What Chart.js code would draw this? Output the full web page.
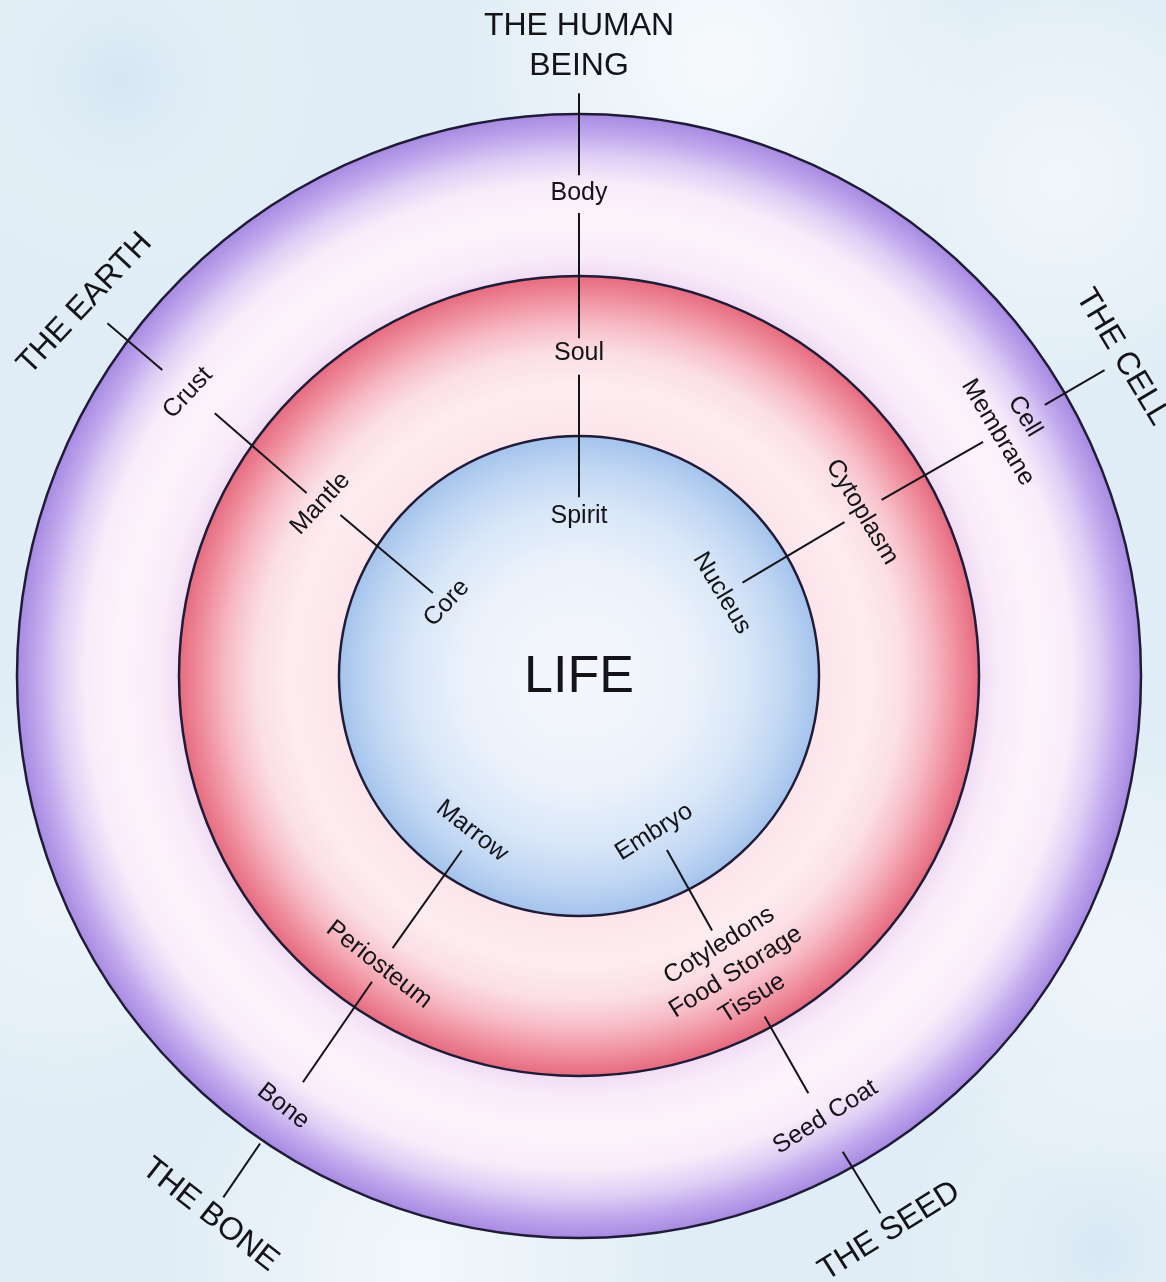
<!DOCTYPE html>
<html><head><meta charset="utf-8">
<script src="https://cdn.jsdelivr.net/npm/chart.js@4/dist/chart.umd.min.js"></script>
<style>html,body{margin:0;padding:0;background:#e2eef7;} canvas{display:block}</style>
</head><body>
<canvas id="c" width="1166" height="1282"></canvas>
<script>
// ---------------- data ----------------
const CENTER_LABEL = 'LIFE';
const RING_NAMES = ['Outer layer', 'Middle layer', 'Inner core'];
const RING_THICKNESS = [162, 160, 240];           // outer ring, middle ring, inner disc
const SUBJECTS = ['THE HUMAN\nBEING', 'THE EARTH', 'THE CELL', 'THE SEED', 'THE BONE'];
const OUTER_LAYER = ['Body', 'Crust', 'Cell\nMembrane', 'Seed Coat', 'Bone'];
const MIDDLE_LAYER = ['Soul', 'Mantle', 'Cytoplasm', 'Cotyledons\nFood Storage\nTissue', 'Periosteum'];
const INNER_LAYER = ['Spirit', 'Core', 'Nucleus', 'Embryo', 'Marrow'];

// ---------------- layout (polar: angle deg, radius as fraction of outer radius) ----------------
const LAYOUT = [
  {rot: 0,   title: [90, 1.121],    outer: [90, 0.859],    middle: [90, 0.575],    inner: [90, 0.285],
   segs: [[90, 1.037, 90, 0.891], [90, 0.824, 90, 0.601], [90, 0.536, 90, 0.318]]},
  {rot: -47, title: [143.0, 1.101], outer: [144.1, 0.859], middle: [146.3, 0.553], inner: [151.1, 0.269],
   segs: [[143.2, 1.048, 143.7, 0.920], [144.2, 0.799, 146.1, 0.584], [146.0, 0.512, 150.4, 0.299]]},
  {rot: 59,  title: [30.4, 1.121],  outer: [30.2, 0.890],  middle: [30.1, 0.582],  inner: [30.1, 0.294],
   segs: [[30.2, 1.082, 30.2, 0.959], [30.1, 0.831, 30.2, 0.623], [30.1, 0.546, 29.7, 0.335]]},
  {rot: -32, title: [-60.8, 1.132], outer: [-60.8, 0.899], middle: [-62.1, 0.596], inner: [-64.3, 0.308],
   segs: [[-61.0, 0.968, -60.7, 1.096], [-61.4, 0.690, -61.2, 0.847], [-63.2, 0.347, -62.4, 0.511]]},
  {rot: 38,  title: [235.6, 1.162], outer: [235.5, 0.929], middle: [235.3, 0.625], inner: [235.4, 0.335],
   segs: [[235.7, 1.007, 235.7, 1.123], [235.9, 0.657, 235.8, 0.874], [236.1, 0.374, 235.6, 0.587]]}
];

const FONT = '"Liberation Sans", Arial, Helvetica, sans-serif';
const INK = '#141418';
const EDGE = '#201c38';
const RING_STOPS = [
  [[0, '#f0dcf4'], [0.12, '#f9ebf9'], [0.35, '#fdf4fb'], [0.58, '#f8ecfa'], [0.74, '#e0cef5'], [0.87, '#c1a9ed'], [1, '#a78ae2']],
  [[0, '#fbe5ea'], [0.3, '#fdedf0'], [0.52, '#fbdfe5'], [0.7, '#f7bcc6'], [0.85, '#f093a2'], [1, '#e66b7f']],
  [[0, '#f5f6fc'], [0.45, '#edf3fb'], [0.7, '#d9e7f8'], [0.88, '#bed5f2'], [1, '#a4c3ec']]
];

function ringFill(idx) {
  return (c) => {
    const chart = c.chart, ca = chart.chartArea;
    const ctrl = chart.getDatasetMeta(c.datasetIndex).controller;
    const stops = RING_STOPS[idx];
    if (!ca || !ctrl || !(ctrl.outerRadius > 0)) return stops[stops.length - 1][1];
    const cx = (ca.left + ca.right) / 2, cy = (ca.top + ca.bottom) / 2;
    const r0 = Math.max(ctrl.innerRadius || 0, 0), r1 = Math.max(ctrl.outerRadius, r0 + 1);
    const g = chart.ctx.createRadialGradient(cx, cy, r0, cx, cy, r1);
    stops.forEach(s => g.addColorStop(s[0], s[1]));
    return g;
  };
}

function geom(chart) {
  const meta = chart.getDatasetMeta(0);
  const ca = chart.chartArea;
  return {cx: (ca.left + ca.right) / 2, cy: (ca.top + ca.bottom) / 2, R: meta.controller.outerRadius};
}
function pt(g, a, r) {
  const t = a * Math.PI / 180;
  return [g.cx + r * g.R * Math.cos(t), g.cy - r * g.R * Math.sin(t)];
}
function drawText(ctx, text, x, y, rot, size) {
  const lines = text.split('\n'), lh = size * 1.25;
  ctx.save();
  ctx.translate(x, y);
  ctx.rotate(rot * Math.PI / 180);
  ctx.font = size + 'px ' + FONT;
  ctx.fillStyle = INK;
  ctx.textAlign = 'center';
  ctx.textBaseline = 'middle';
  lines.forEach((l, i) => ctx.fillText(l, 0, (i - (lines.length - 1) / 2) * lh));
  ctx.restore();
}

const backgroundPlugin = {
  id: 'paper',
  beforeDraw(chart) {
    const ctx = chart.ctx, w = chart.width, h = chart.height;
    ctx.save();
    ctx.fillStyle = '#e0edf6';
    ctx.fillRect(0, 0, w, h);
    const blotches = [[720, 60, 260, 'rgba(255,255,255,0.75)'], [1060, 180, 220, 'rgba(255,255,255,0.55)'],
      [120, 80, 200, 'rgba(205,225,240,0.6)'], [60, 900, 220, 'rgba(255,255,255,0.4)'],
      [1120, 960, 240, 'rgba(255,255,255,0.5)'], [420, 1260, 260, 'rgba(255,255,255,0.6)'],
      [1100, 1250, 200, 'rgba(210,228,242,0.6)']];
    blotches.forEach(b => {
      const g = ctx.createRadialGradient(b[0], b[1], 0, b[0], b[1], b[2]);
      g.addColorStop(0, b[3]); g.addColorStop(1, 'rgba(255,255,255,0)');
      ctx.fillStyle = g; ctx.fillRect(0, 0, w, h);
    });
    ctx.restore();
  }
};

const labelPlugin = {
  id: 'layerLabels',
  afterDatasetsDraw(chart) {
    const ctx = chart.ctx, g = geom(chart);
    ctx.save();
    // ring boundaries, from each ring's computed outer radius
    ctx.strokeStyle = EDGE;
    ctx.lineWidth = 2.5;
    chart.data.datasets.forEach((d, i) => {
      const ctrl = chart.getDatasetMeta(i).controller;
      ctx.beginPath(); ctx.arc(g.cx, g.cy, ctrl.outerRadius, 0, Math.PI * 2); ctx.stroke();
    });
    ctx.strokeStyle = INK;
    ctx.lineWidth = 2;
    ctx.lineCap = 'butt';
    SUBJECTS.forEach((name, i) => {
      const L = LAYOUT[i];
      L.segs.forEach(s => {
        const a = pt(g, s[0], s[1]), b = pt(g, s[2], s[3]);
        ctx.beginPath(); ctx.moveTo(a[0], a[1]); ctx.lineTo(b[0], b[1]); ctx.stroke();
      });
      let p = pt(g, L.title[0], L.title[1]); drawText(ctx, name, p[0], p[1], L.rot, 32);
      p = pt(g, L.outer[0], L.outer[1]); drawText(ctx, OUTER_LAYER[i], p[0], p[1], L.rot, 25);
      p = pt(g, L.middle[0], L.middle[1]); drawText(ctx, MIDDLE_LAYER[i], p[0], p[1], L.rot, 25);
      p = pt(g, L.inner[0], L.inner[1]); drawText(ctx, INNER_LAYER[i], p[0], p[1], L.rot, 25);
    });
    drawText(ctx, CENTER_LABEL, g.cx, g.cy + 2, 0, 52);
    ctx.restore();
  }
};

new Chart(document.getElementById('c'), {
  type: 'doughnut',
  data: {
    labels: ['layer'],
    datasets: RING_NAMES.map((n, i) => ({
      label: n,
      data: [1],
      weight: RING_THICKNESS[i],
      backgroundColor: ringFill(i),
      borderWidth: 0,
      hoverBorderWidth: 0,
      hoverOffset: 0
    }))
  },
  options: {
    responsive: false,
    animation: false,
    devicePixelRatio: 1,
    cutout: 0,
    events: [],
    layout: {padding: {left: 17, right: 25, top: 114, bottom: 44}},
    plugins: {legend: {display: false}, tooltip: {enabled: false}, title: {display: false}}
  },
  plugins: [backgroundPlugin, labelPlugin]
});
</script>
</body></html>
